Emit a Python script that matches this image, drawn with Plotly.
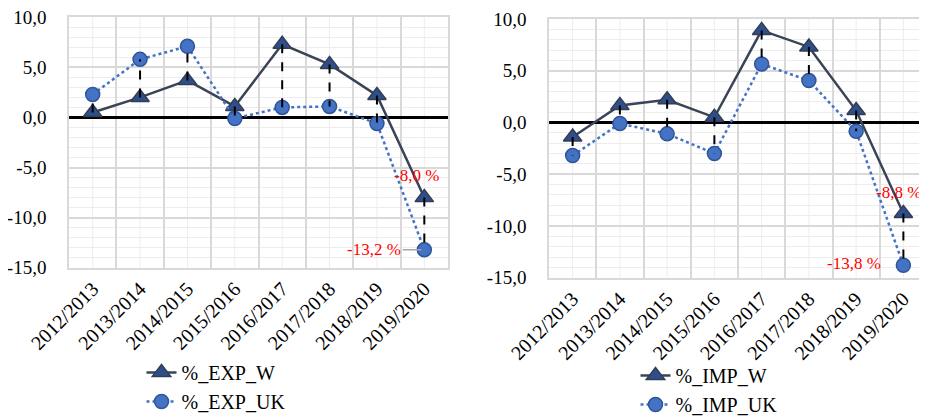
import plotly.graph_objects as go

categories = ["2012/2013", "2013/2014", "2014/2015", "2015/2016",
              "2016/2017", "2017/2018", "2018/2019", "2019/2020"]
exp_w = [0.5, 2.0, 3.7, 1.1, 7.3, 5.3, 2.2, -8.0]
exp_uk = [2.3, 5.8, 7.1, -0.1, 1.0, 1.1, -0.6, -13.2]
imp_w = [-1.4, 1.65, 2.2, 0.5, 8.9, 7.3, 1.15, -8.8]
imp_uk = [-3.2, -0.1, -1.1, -3.0, 5.65, 4.05, -0.85, -13.8]
ytick_vals = [-15, -10, -5, 0, 5, 10]
ytick_text = ["-15,0", "-10,0", "-5,0", "0,0", "5,0", "10,0"]

FONT = "Liberation Serif"
W_LINE = "#3A4456"
W_FILL = "#2F4E8C"
UK_LINE = "#4472C4"
UK_EDGE = "#2F5597"
GRID = "#D9D9D9"
MINOR = "#EDEDED"

# the page body has an 8px margin, so the figure is placed at (8, 8)
FW, FH = 919, 409
OFF = 8


def px_x(p):
    return (p - OFF) / FW


def px_y(p):
    return 1 - (p - OFF) / FH


def fmt(v):
    return f"{v:.1f}".replace(".", ",") + " %"


fig = go.Figure()


def add_panel(xa, ya, w, uk, name_w, name_uk, legend):
    fig.add_trace(go.Scatter(
        x=categories, y=w, name=name_w, mode="lines+markers",
        xaxis=xa, yaxis=ya, legend=legend,
        line=dict(color=W_LINE, width=2.5),
        marker=dict(symbol="triangle-up", size=16, color=W_FILL,
                    line=dict(color="#333F50", width=1.5)),
    ))
    fig.add_trace(go.Scatter(
        x=categories, y=uk, name=name_uk, mode="lines+markers",
        xaxis=xa, yaxis=ya, legend=legend,
        line=dict(color=UK_LINE, width=2.5, dash="dot"),
        marker=dict(symbol="circle", size=14, color=UK_LINE,
                    line=dict(color=UK_EDGE, width=1.5)),
    ))
    dx, dy = [], []
    for c, a, b in zip(categories, w, uk):
        dx += [c, c, None]
        dy += [a, b, None]
    fig.add_trace(go.Scatter(
        x=dx, y=dy, mode="lines", showlegend=False, hoverinfo="skip",
        xaxis=xa, yaxis=ya,
        line=dict(color="black", width=2, dash="dash"),
    ))


add_panel("x", "y", exp_w, exp_uk, "%_EXP_W", "%_EXP_UK", "legend")
add_panel("x2", "y2", imp_w, imp_uk, "%_IMP_W", "%_IMP_UK", "legend2")

axis_x = dict(
    type="category", tickson="boundaries", showgrid=True, gridcolor=GRID,
    gridwidth=1.5, tickangle=-45, ticks="", showline=True, mirror=True,
    linecolor=GRID, linewidth=1.5, zeroline=False, automargin=False,
    tickfont=dict(family=FONT, size=20, color="black"),
    range=[-0.5, 7.5],
)
axis_y = dict(
    range=[-15, 10], tickvals=ytick_vals, ticktext=ytick_text,
    showgrid=True, gridcolor=GRID, gridwidth=1.5,
    minor=dict(dtick=1, showgrid=True, gridcolor=MINOR, gridwidth=1),
    zeroline=True, zerolinecolor="black", zerolinewidth=2.5,
    showline=True, mirror=True, linecolor=GRID, linewidth=1.5,
    ticks="", ticklabelstandoff=17, automargin=False, ticklabeloverflow="allow",
    tickfont=dict(family=FONT, size=19, color="black"),
)

fig.update_layout(
    width=FW, height=FH,
    margin=dict(l=0, r=0, t=0, b=0, autoexpand=False),
    paper_bgcolor="white", plot_bgcolor="white",
    xaxis=dict(axis_x, domain=[px_x(69), px_x(448)], anchor="y"),
    yaxis=dict(axis_y, domain=[px_y(267.7), px_y(17.3)], anchor="x"),
    xaxis2=dict(axis_x, domain=[px_x(549), 1.0], anchor="y2"),
    yaxis2=dict(axis_y, domain=[px_y(277.7), px_y(19)], anchor="x2"),
    legend=dict(x=px_x(216), y=px_y(353), xanchor="center", yanchor="top",
                orientation="v", font=dict(family=FONT, size=20, color="black"),
                bgcolor="rgba(0,0,0,0)", tracegroupgap=0),
    legend2=dict(x=px_x(709), y=px_y(356), xanchor="center", yanchor="top",
                 orientation="v", font=dict(family=FONT, size=20, color="black"),
                 bgcolor="rgba(0,0,0,0)", tracegroupgap=0),
    showlegend=True,
)

# minor vertical gridlines at category centres
shapes = []
for xr, yr in (("x", "y domain"), ("x2", "y2 domain")):
    for c in categories:
        shapes.append(dict(type="line", xref=xr, yref=yr, x0=c, x1=c, y0=0, y1=1,
                           line=dict(color=MINOR, width=1), layer="below"))
fig.update_layout(shapes=shapes)

red = dict(family=FONT, size=17, color="red")
last = categories[-1]
fig.add_annotation(x=last, y=exp_w[-1], xref="x", yref="y", text=fmt(exp_w[-1]),
                   showarrow=False, xanchor="right", yanchor="middle",
                   xshift=17, yshift=22, font=red)
fig.add_annotation(x=last, y=exp_uk[-1], xref="x", yref="y", text=fmt(exp_uk[-1]),
                   showarrow=True, arrowhead=0, arrowcolor="#A6A6A6", arrowwidth=1.5,
                   ax=-50, ay=0, standoff=3, font=red)
fig.add_annotation(x=last, y=imp_w[-1], xref="x2", yref="y2", text=fmt(imp_w[-1]),
                   showarrow=False, xanchor="right", yanchor="middle",
                   xshift=20, yshift=21, font=red)
fig.add_annotation(x=last, y=imp_uk[-1], xref="x2", yref="y2", text=fmt(imp_uk[-1]),
                   showarrow=False, xanchor="right", yanchor="middle",
                   xshift=-20, yshift=2, font=red)

fig.write_html("out.html")
